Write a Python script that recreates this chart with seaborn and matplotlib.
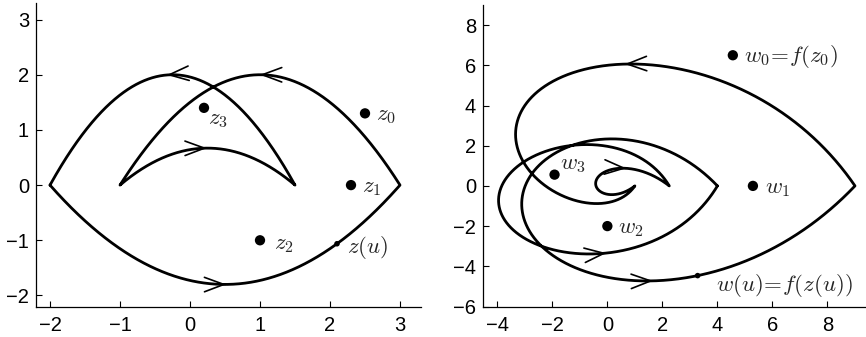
import numpy as np
import pandas as pd
import matplotlib
matplotlib.use("Agg")
import matplotlib.pyplot as plt
import seaborn as sns

# Closed contour in the z-plane: four parabolic arcs (start, end, apex height at midpoint)
arc_start = [-2.0, 3.0, -1.0, 1.5]
arc_end = [3.0, -1.0, 1.5, -2.0]
arc_apex = [-1.8, 2.0, 0.67, 2.0]

# Marked points z_k
z_re = [2.5, 2.3, 1.0, 0.2]
z_im = [1.3, 0.0, -1.0, 1.4]
z_names = [r"$z_0$", r"$z_1$", r"$z_2$", r"$z_3$"]
w_names = [r"$w_0\!=\!f(z_0)$", r"$w_1$", r"$w_2$", r"$w_3$"]

# Moving point z(u) on the first arc, given by its real part
u_re = 2.1
u_name_z = r"$z(u)$"
u_name_w = r"$w(u)\!=\!f(z(u))$"

# Where the direction chevrons sit along each curve
z_arrow_x = [0.52, 1.0, 0.24, -0.33]
z_arrow_y = [-1.8, 2.0, 0.67, 2.0]
w_arrow_x = [1.66, 0.63, 0.69, -0.04]
w_arrow_y = [-4.78, 6.05, 0.89, -3.36]


def f(z):
    return z ** 2


def arc(a, b, h, n=1500):
    x = np.linspace(a, b, n)
    m, r = (a + b) / 2, (b - a) / 2
    return x + 1j * h * (1 - ((x - m) / r) ** 2)


contour = np.concatenate([arc(a, b, h) for a, b, h in zip(arc_start, arc_end, arc_apex)])
image = f(contour)

a0, b0, h0 = arc_start[0], arc_end[0], arc_apex[0]
m0, r0 = (a0 + b0) / 2, (b0 - a0) / 2
z_u = u_re + 1j * h0 * (1 - ((u_re - m0) / r0) ** 2)
w_u = f(z_u)

z_pts = np.array(z_re) + 1j * np.array(z_im)
w_pts = f(z_pts)

sns.set_style("ticks", {"xtick.direction": "in", "ytick.direction": "in",
                        "axes.edgecolor": "black", "xtick.color": "black",
                        "ytick.color": "black"})
plt.rcParams["font.family"] = ["Liberation Sans", "DejaVu Sans"]
plt.rcParams["mathtext.fontset"] = "cm"
plt.rcParams["axes.linewidth"] = 0.9
plt.rcParams["xtick.major.size"] = 4
plt.rcParams["ytick.major.size"] = 4
plt.rcParams["xtick.major.width"] = 0.8
plt.rcParams["ytick.major.width"] = 0.8

W, H = 866, 337
fig = plt.figure(figsize=(W / 100, H / 100), dpi=100)
axL = fig.add_axes([36 / W, 1 - 306.5 / H, (421 - 36) / W, (306.5 - 3) / H])
axR = fig.add_axes([483 / W, 1 - 306.5 / H, (866 - 483) / W, (306.5 - 5) / H])

LW = 2.0
label_fs = 16.5
tick_fs = 14.5


def draw_path(ax, path):
    df = pd.DataFrame({"x": path.real, "y": path.imag})
    sns.lineplot(data=df, x="x", y="y", sort=False, estimator=None, color="black",
                 lw=LW, ax=ax, legend=False)


def chevrons(ax, path, ax_x, ax_y):
    for px, py in zip(ax_x, ax_y):
        i = int(np.argmin(np.abs(path - (px + 1j * py))))
        i = max(i, 3)
        tip = path[i]
        tail = path[i - 3]
        ax.annotate("", xy=(tip.real, tip.imag), xytext=(tail.real, tail.imag),
                    arrowprops=dict(arrowstyle="->,head_length=1.4,head_width=0.52",
                                    lw=1.2, color="black", shrinkA=0, shrinkB=0,
                                    mutation_scale=10))


def points(ax, pts, small):
    sns.scatterplot(x=pts.real, y=pts.imag, s=55, color="black", edgecolor="none", ax=ax,
                    zorder=5, legend=False)
    sns.scatterplot(x=[small.real], y=[small.imag], s=16, color="black", edgecolor="none",
                    ax=ax, zorder=5, legend=False)


# ---- z-plane ----
draw_path(axL, contour)
chevrons(axL, contour, z_arrow_x, z_arrow_y)
points(axL, z_pts, z_u)
z_offsets = [(8, -5), (8, -5), (10, -6), (3, -12)]
for p, name, off in zip(z_pts, z_names, z_offsets):
    axL.annotate(name, (p.real, p.imag), xytext=off, textcoords="offset points",
                 fontsize=label_fs, ha="left", va="baseline")
axL.annotate(u_name_z, (z_u.real, z_u.imag), xytext=(7, -7), textcoords="offset points",
             fontsize=label_fs, ha="left", va="baseline")
axL.set_xlim(-2.2, 3.3)
axL.set_ylim(-2.2, 3.3)
axL.set_xticks([-2, -1, 0, 1, 2, 3])
axL.set_yticks([-2, -1, 0, 1, 2, 3])

# ---- w-plane ----
draw_path(axR, image)
chevrons(axR, image, w_arrow_x, w_arrow_y)
points(axR, w_pts, w_u)
w_offsets = [(8, -5), (9, -5), (8, -5), (4, 4)]
for p, name, off in zip(w_pts, w_names, w_offsets):
    axR.annotate(name, (p.real, p.imag), xytext=off, textcoords="offset points",
                 fontsize=label_fs, ha="left", va="baseline")
axR.annotate(u_name_w, (w_u.real, w_u.imag), xytext=(13, -11), textcoords="offset points",
             fontsize=label_fs, ha="left", va="baseline")
axR.set_xlim(-4.52, 9.4)
axR.set_ylim(-6, 9)
axR.set_xticks([-4, -2, 0, 2, 4, 6, 8])
axR.set_yticks([-6, -4, -2, 0, 2, 4, 6, 8])

for ax in (axL, axR):
    ax.set_xlabel("")
    ax.set_ylabel("")
    sns.despine(ax=ax)
    ax.tick_params(axis="x", labelsize=tick_fs, pad=7)
    ax.tick_params(axis="y", labelsize=tick_fs, pad=5)

fig.savefig("out.png", dpi=100)
